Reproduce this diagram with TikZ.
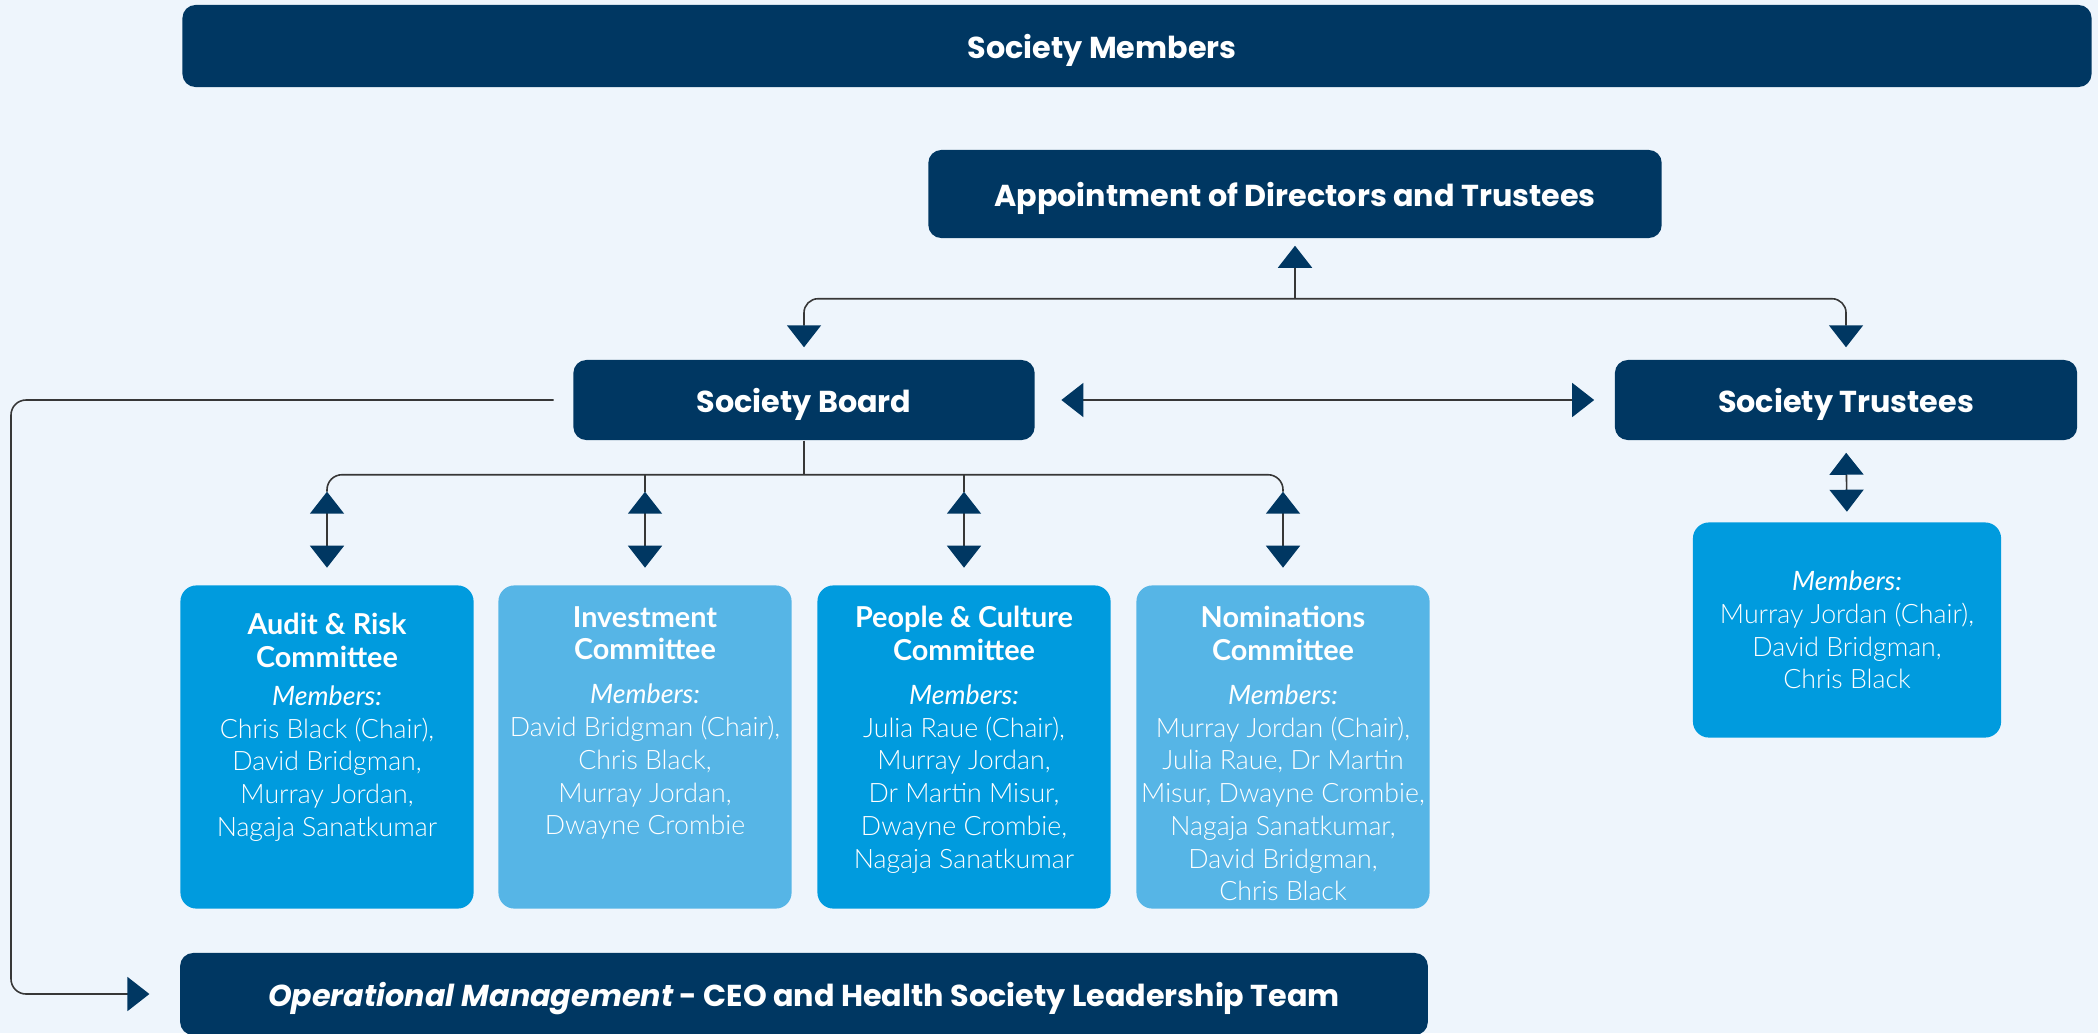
\documentclass[tikz,border=0pt]{standalone}
\usepackage{fontspec}
\newfontfamily\headfont{Poppins}
\newfontfamily\bodyfont{Lato}[UprightFont=* Light, ItalicFont=* Italic, BoldFont=* Bold]
\usetikzlibrary{arrows.meta, positioning}

\definecolor{navy}{RGB}{0,55,98}
\definecolor{midblue}{RGB}{0,155,222}
\definecolor{paleblue}{RGB}{86,181,230}
\definecolor{bgcol}{RGB}{238,245,252}
\definecolor{linegray}{RGB}{55,55,55}

\newcommand{\ctitle}[1]{{\bfseries\fontsize{8.2}{9.5}\selectfont #1}}
\newcommand{\mlabel}{{\itshape Members:}}

\tikzset{
  headbox/.style={rectangle, rounded corners=0.13cm, fill=navy, text=white, inner sep=0pt, text height=0.7em, text depth=0pt, font=\headfont\bfseries\fontsize{8.6}{10}\selectfont},
  combox/.style={rectangle, rounded corners=0.16cm, minimum width=2.93cm, minimum height=3.23cm, inner sep=0pt},
  comtext/.style={text=white, align=center, inner sep=0pt, font=\bodyfont\fontsize{7.6}{9.3}\selectfont},
  link/.style={draw=linegray, line width=0.45pt},
  arrowto/.style={link, -{Triangle[length=0.22cm, width=0.34cm, color=navy]}},
  twoway/.style={link, {Triangle[length=0.22cm, width=0.34cm, color=navy]}-{Triangle[length=0.22cm, width=0.34cm, color=navy]}}
}

\begin{document}
\begin{tikzpicture}[x=0.01cm, y=-0.01cm]
\fill[bgcol] (0,0) rectangle (2098,1033);
\useasboundingbox (0,0) rectangle (2098,1033);

% top boxes
\node[headbox, minimum width=19.08cm, minimum height=0.82cm] (members) at (1137,46) {Society Members\hspace*{0.7cm}};
\node[headbox, minimum width=7.33cm, minimum height=0.88cm] (appoint) at (1295,194) {Appointment of Directors and Trustees};
\node[headbox, minimum width=4.61cm, minimum height=0.8cm] (board) at (804,400) {Society Board};
\node[headbox, minimum width=4.62cm, minimum height=0.8cm] (trustees) at (1846,400) {Society Trustees};

% committees
\node[combox, fill=midblue] (audit) at (327,747) {};
\node[combox, fill=paleblue] (invest) at (645,747) {};
\node[combox, fill=midblue] (people) at (964,747) {};
\node[combox, fill=paleblue] (nomin) at (1283,747) {};

\node[comtext, below=0.28cm of audit.north] (audittxt) {\ctitle{Audit \& Risk}\\\ctitle{Committee}\\[1.5pt]\mlabel\\Chris Black (Chair),\\David Bridgman,\\Murray Jordan,\\Nagaja Sanatkumar};
\node[comtext, below=0.21cm of invest.north] (investtxt) {\ctitle{Investment}\\\ctitle{Committee}\\[3.2pt]\mlabel\\David Bridgman (Chair),\\Chris Black,\\Murray Jordan,\\Dwayne Crombie};
\node[comtext, below=0.21cm of people.north] (peopletxt) {\ctitle{People \& Culture}\\\ctitle{Committee}\\[3.2pt]\mlabel\\Julia Raue (Chair),\\Murray Jordan,\\Dr Martin Misur,\\Dwayne Crombie,\\Nagaja Sanatkumar};
\node[comtext, below=0.21cm of nomin.north] (nomintxt) {\ctitle{Nominations}\\\ctitle{Committee}\\[3.2pt]\mlabel\\Murray Jordan (Chair),\\Julia Raue, Dr Martin\\Misur, Dwayne Crombie,\\Nagaja Sanatkumar,\\David Bridgman,\\Chris Black};

\node[combox, comtext, fill=midblue, minimum width=3.08cm, minimum height=2.15cm] (trustmem) at (1847,630) {\mlabel\\Murray Jordan (Chair),\\David Bridgman,\\Chris Black};

\node[headbox, minimum width=12.47cm, minimum height=0.82cm] (opman) at (804,994) {{\itshape Operational Management} - CEO and Health Society Leadership Team};

% connectors
\path (appoint.south) ++(0,60) coordinate (appbus);
\draw[twoway, rounded corners=0.14cm, shorten <=0.12cm, shorten >=0.12cm] (board.north) |- (appbus) -| (trustees.north);
\draw[arrowto, shorten >=0.07cm] (appbus) -- (appoint.south);
\draw[twoway, shorten <=0.26cm, shorten >=0.2cm] (board.east) -- (trustees.west);
\draw[twoway, shorten <=0.12cm, shorten >=0.1cm] (trustees.south) -- (trustmem.north);

\path (board.south) ++(0,34) coordinate (bbus);
\foreach \c in {audit,invest,people,nomin}
  \path (\c.north) ++(0,-93) coordinate (\c-top);
\draw[link] (board.south) -- (bbus);
\draw[link, rounded corners=0.15cm] (audit-top) -- (audit-top |- bbus) -- (nomin-top |- bbus) -- (nomin-top);
\draw[link] (invest-top) -- (invest-top |- bbus);
\draw[link] (people-top) -- (people-top |- bbus);
\foreach \c in {audit,invest,people,nomin}
  \draw[twoway, shorten >=0.17cm] (\c-top) -- (\c.north);

\coordinate (rail) at (11,0);
\draw[arrowto, rounded corners=0.15cm, shorten <=0.19cm, shorten >=0.3cm] (board.west) -- (board.west -| rail) |- (opman.west);

\end{tikzpicture}
\end{document}
